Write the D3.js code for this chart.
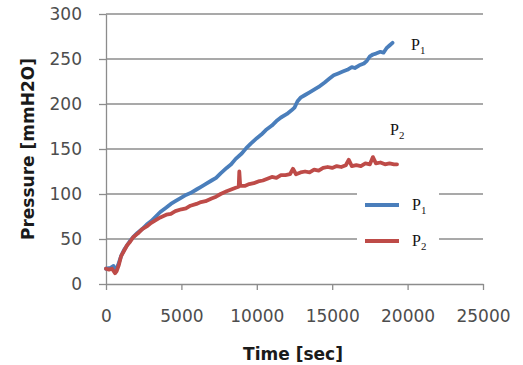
<!DOCTYPE html>
<html>
<head>
<meta charset="utf-8">
<script src="https://cdn.jsdelivr.net/npm/d3@7"></script>
<style>
  body { margin: 0; background: #fff; }
  svg { display: block; }
</style>
</head>
<body>
<div id="chart"></div>
<script>
// time [sec], pressure [mmH2O]
const p1Data = [
  [0, 17], [300, 18], [500, 20], [650, 15], [800, 21], [1000, 31], [1200, 38], [1400, 43],
  [1600, 48], [1800, 52], [2100, 57], [2400, 61], [2700, 66], [3000, 70], [3300, 75],
  [3600, 80], [4000, 85], [4300, 89], [4600, 92], [5000, 96], [5300, 99], [5600, 101],
  [6000, 105], [6300, 108], [6600, 111], [7000, 115], [7300, 118], [7600, 123], [8000, 129],
  [8300, 133], [8600, 139], [9000, 145], [9300, 151], [9600, 156], [10000, 162],
  [10300, 166], [10600, 171], [11000, 176], [11300, 181], [11600, 185], [12000, 189],
  [12300, 193], [12500, 196], [12700, 203], [12900, 207], [13200, 210], [13500, 213],
  [13800, 216], [14100, 219], [14500, 224], [14800, 228], [15100, 232], [15400, 234],
  [15700, 236], [16000, 238], [16300, 241], [16500, 240], [16800, 243], [17100, 245],
  [17300, 248], [17500, 253], [17700, 255], [17900, 256], [18200, 258], [18400, 257],
  [18600, 262], [18800, 265], [19000, 268]
];
const p2Data = [
  [0, 17], [200, 16], [400, 17], [600, 12], [700, 14], [850, 21], [1000, 31], [1200, 37],
  [1400, 43], [1600, 47], [1800, 52], [2100, 56], [2400, 61], [2700, 64], [3000, 68],
  [3300, 71], [3600, 74], [4000, 77], [4300, 78], [4600, 81], [5000, 83], [5300, 84],
  [5600, 87], [6000, 89], [6300, 91], [6600, 92], [7000, 95], [7300, 97], [7600, 100],
  [8000, 103], [8300, 105], [8600, 107], [8800, 108], [8840, 125], [8900, 109],
  [9200, 109], [9500, 111], [9800, 112], [10100, 114], [10400, 115], [10700, 117],
  [11000, 119], [11300, 118], [11600, 121], [11900, 121], [12200, 122], [12400, 128],
  [12600, 122], [12900, 124], [13200, 125], [13500, 124], [13800, 127], [14100, 126],
  [14400, 129], [14700, 130], [15000, 129], [15300, 131], [15600, 130], [15900, 132],
  [16100, 138], [16300, 131], [16600, 132], [16900, 131], [17200, 134], [17500, 133],
  [17700, 141], [17900, 134], [18200, 135], [18500, 133], [18800, 134], [19100, 133],
  [19300, 133]
];
const xTicks = [0, 5000, 10000, 15000, 20000, 25000];
const yTicks = [0, 50, 100, 150, 200, 250, 300];
const series = [
  { name: 'P', sub: '1', data: p1Data, color: '#4a7ebb' },
  { name: 'P', sub: '2', data: p2Data, color: '#be4b48' }
];

const width = 523, height = 365;
const svg = d3.select('#chart').append('svg').attr('width', width).attr('height', height);

const x = d3.scaleLinear().domain([0, 25000]).range([106, 483]);
const y = d3.scaleLinear().domain([0, 300]).range([284, 14]);
const gridColor = '#8c8c8c';
const tickFont = 'DejaVu Sans, Verdana, sans-serif';

// gridlines
svg.append('g').selectAll('line').data(yTicks.filter(d => d > 0)).join('line')
  .attr('x1', x(0)).attr('x2', x(25000))
  .attr('y1', d => y(d)).attr('y2', d => y(d))
  .attr('stroke', gridColor).attr('stroke-width', 1.3);

// y axis
const yAxis = svg.append('g').attr('transform', `translate(${x(0)},0)`)
  .call(d3.axisLeft(y).tickValues(yTicks).tickSize(7).tickPadding(17).tickSizeOuter(0));
// x axis
const xAxis = svg.append('g').attr('transform', `translate(0,${y(0)})`)
  .call(d3.axisBottom(x).tickValues(xTicks).tickFormat(d3.format('d'))
    .tickSize(6).tickPadding(20).tickSizeOuter(0));

[yAxis, xAxis].forEach(a => {
  a.select('.domain').attr('stroke', gridColor).attr('stroke-width', 1.3);
  a.selectAll('.tick line').attr('stroke', gridColor).attr('stroke-width', 1.3);
  a.selectAll('.tick text').attr('font-family', tickFont).attr('font-size', 17).attr('fill', '#4d4d4d');
});

// legend box covers gridlines
svg.append('rect').attr('x', 357).attr('y', 186).attr('width', 82).attr('height', 70).attr('fill', '#fff');

// lines
const line = d3.line().x(d => x(d[0])).y(d => y(d[1]));
series.forEach(s => {
  svg.append('path').datum(s.data).attr('d', line)
    .attr('fill', 'none').attr('stroke', s.color).attr('stroke-width', 3.8)
    .attr('stroke-linejoin', 'round').attr('stroke-linecap', 'round');
});

function subLabel(g, px, py, s, size) {
  const t = g.append('text').attr('x', px).attr('y', py)
    .attr('font-family', 'Liberation Serif, Times New Roman, serif').attr('font-size', size).attr('fill', '#111');
  t.append('tspan').text(s.name);
  t.append('tspan').attr('dy', 4).attr('font-size', size * 0.68).text(s.sub);
}

// legend entries
series.forEach((s, i) => {
  const ly = 205 + i * 36;
  svg.append('line').attr('x1', 365).attr('x2', 399).attr('y1', ly).attr('y2', ly)
    .attr('stroke', s.color).attr('stroke-width', 3.8);
  subLabel(svg, 412, ly + 5, s, 16);
});

// labels near line ends
subLabel(svg, 411, 50, series[0], 16);
subLabel(svg, 390, 135, series[1], 16);

// axis titles
svg.append('text').attr('x', 293).attr('y', 360).attr('text-anchor', 'middle')
  .attr('font-family', tickFont).attr('font-weight', 'bold').attr('font-size', 17).attr('fill', '#1a1a1a')
  .text('Time [sec]');
svg.append('text').attr('transform', 'translate(34,149) rotate(-90)').attr('text-anchor', 'middle')
  .attr('font-family', tickFont).attr('font-weight', 'bold').attr('font-size', 17).attr('fill', '#1a1a1a')
  .text('Pressure [mmH2O]');
</script>
</body>
</html>
